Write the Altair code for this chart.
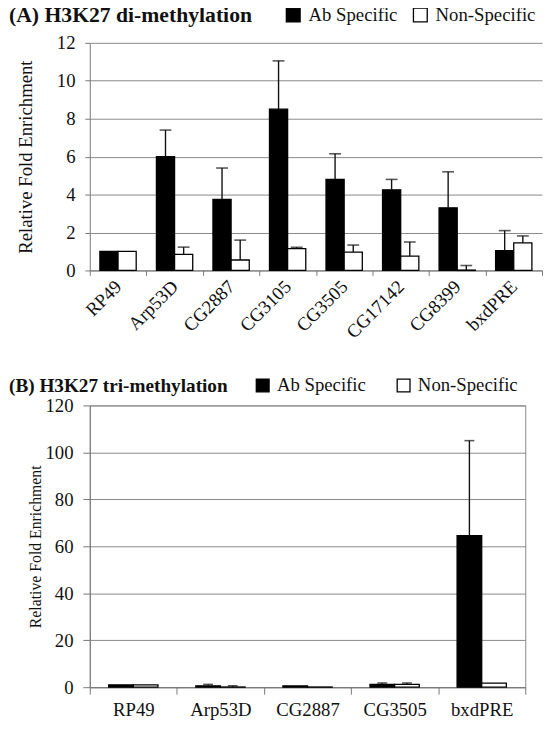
import altair as alt
import pandas as pd

FONT = "Liberation Serif"
SERIES = ["Ab Specific", "Non-Specific"]

# Panel A: H3K27 di-methylation
genes_a = ["RP49", "Arp53D", "CG2887", "CG3105", "CG3505", "CG17142", "CG8399", "bxdPRE"]
ab_a = [1.0, 6.0, 3.75, 8.5, 4.8, 4.25, 3.3, 1.05]
ab_a_top = [None, 7.4, 5.4, 11.05, 6.15, 4.8, 5.2, 2.1]
non_a = [1.0, 0.85, 0.55, 1.15, 0.97, 0.75, 0.02, 1.45]
non_a_top = [None, 1.23, 1.6, 1.22, 1.34, 1.5, 0.26, 1.82]
ticks_a = [0, 2, 4, 6, 8, 10, 12]

# Panel B: H3K27 tri-methylation
genes_b = ["RP49", "Arp53D", "CG2887", "CG3505", "bxdPRE"]
ab_b = [1.0, 0.6, 0.55, 1.2, 64.5]
ab_b_top = [None, 1.2, None, 1.8, 105.0]
non_b = [1.0, 0.1, 0.1, 1.2, 1.7]
non_b_top = [None, 0.6, None, 1.8, None]
ticks_b = [0, 20, 40, 60, 80, 100, 120]


def make_df(genes, ab, ab_top, non, non_top):
    rows = []
    for g, v, u in zip(genes, ab, ab_top):
        rows.append({"gene": g, "series": SERIES[0], "value": v, "upper": u})
    for g, v, u in zip(genes, non, non_top):
        rows.append({"gene": g, "series": SERIES[1], "value": v, "upper": u})
    return pd.DataFrame(rows)


def panel(df, genes, ticks, title, title_size, title_pad,
          width, height, off_pad, label_angle, label_pad,
          x_tick, y_tick, ytitle_size, ytitle_x,
          leg_x, leg_y, leg_font, leg_sym, leg_gap, leg_off, cap, view_stroke):
    base = alt.Chart(df)
    if label_angle:
        xaxis = alt.Axis(title=None, tickBand="extent", labelAngle=label_angle,
                         labelAlign="right", labelBaseline="middle", labelFont=FONT,
                         labelPadding=label_pad, tickSize=x_tick, grid=False)
    else:
        xaxis = alt.Axis(title=None, tickBand="extent", labelAngle=0, labelFont=FONT,
                         labelPadding=label_pad, tickSize=x_tick, grid=False)
    yaxis = alt.Axis(values=ticks, title="Relative Fold Enrichment", labelFont=FONT,
                     labelAlign="right", labelBaseline="middle", labelAngle=0,
                     titleFont=FONT, titleFontSize=ytitle_size, titleX=ytitle_x,
                     titleBaseline="middle", tickSize=y_tick, labelPadding=10,
                     labelOverlap=False)
    xs = alt.Scale(paddingInner=0, paddingOuter=0)
    os_ = alt.Scale(paddingInner=0, paddingOuter=off_pad)
    ys = alt.Scale(domain=[ticks[0], ticks[-1]], nice=False)

    def X():
        return alt.X("gene:N", sort=genes, scale=xs, axis=xaxis)

    def XO():
        return alt.XOffset("series:N", sort=SERIES, scale=os_)

    color = alt.Color("series:N", sort=SERIES,
                      scale=alt.Scale(domain=SERIES, range=["#000000", "#ffffff"]),
                      legend=alt.Legend(title=title, titleOrient="left", titleFontSize=title_size,
                                        titleFont=FONT, titleFontWeight="bold",
                                        titlePadding=title_pad, titleLimit=400,
                                        orient="none", legendX=leg_x, legendY=leg_y,
                                        direction="horizontal", symbolType="square",
                                        symbolSize=leg_sym, symbolStrokeColor="#000",
                                        symbolStrokeWidth=1.3, symbolOpacity=1,
                                        labelFont=FONT, labelFontSize=leg_font,
                                        labelFontWeight="normal", labelAlign="left",
                                        columnPadding=leg_gap, labelOffset=leg_off, padding=0))
    bars = base.mark_bar(stroke="#000", strokeWidth=1.3).encode(
        x=X(), xOffset=XO(), y=alt.Y("value:Q", scale=ys, axis=yaxis), color=color)
    errs = base.transform_filter("isValid(datum.upper)")
    rules = errs.mark_rule(color="#111", strokeWidth=1.4).encode(
        x=X(), xOffset=XO(), y=alt.Y("value:Q", scale=ys, axis=yaxis), y2="upper:Q")
    caps = errs.mark_tick(color="#111", thickness=1.6, size=cap, orient="horizontal").encode(
        x=X(), xOffset=XO(), y=alt.Y("upper:Q", scale=ys, axis=yaxis))
    if view_stroke:
        view = alt.ViewBackground(stroke="#888", strokeWidth=1)
    else:
        view = alt.ViewBackground(strokeWidth=0, stroke="transparent")
    return alt.layer(bars, rules, caps).properties(width=width, height=height, view=view)


df_a = make_df(genes_a, ab_a, ab_a_top, non_a, non_a_top)
df_b = make_df(genes_b, ab_b, ab_b_top, non_b, non_b_top)

chart_a = panel(df_a, genes_a, ticks_a, "(A) H3K27 di-methylation", 22, 32,
                459, 231, 0.557, -45, 8, 5, 5, 19, -65,
                -82, -38, 19, 196, 12, 6, 12, False)
chart_b = panel(df_b, genes_b, ticks_b, "(B) H3K27 tri-methylation", 19.5, 25,
                442, 286, 0.768, 0, 7, 7, 7, 16, -55,
                -82, -30, 19, 169, 28, 5, 10, True)

chart = alt.concat(chart_a, chart_b, columns=1, spacing=33).resolve_scale(
    x="independent", y="independent", color="independent", xOffset="independent"
).properties(
    padding={"left": 0, "top": -8, "right": 0, "bottom": 0}
).configure(
    font=FONT,
    style={"guide-label": {"font": FONT}, "guide-title": {"font": FONT}},
).configure_axis(
    labelFont=FONT, labelFontSize=19, labelColor="#111",
    titleFont=FONT, titleFontWeight="normal", titleColor="#111",
    tickColor="#777", domainColor="#777", gridColor="#888", gridWidth=1
).configure_axisY(labelFont=FONT).configure_axisQuantitative(labelFont=FONT).configure_legend(
    labelFont=FONT, labelColor="#111", titleFont=FONT, titleColor="#111"
)

chart.save("out.html", embed_options={"renderer": "svg", "actions": False})
